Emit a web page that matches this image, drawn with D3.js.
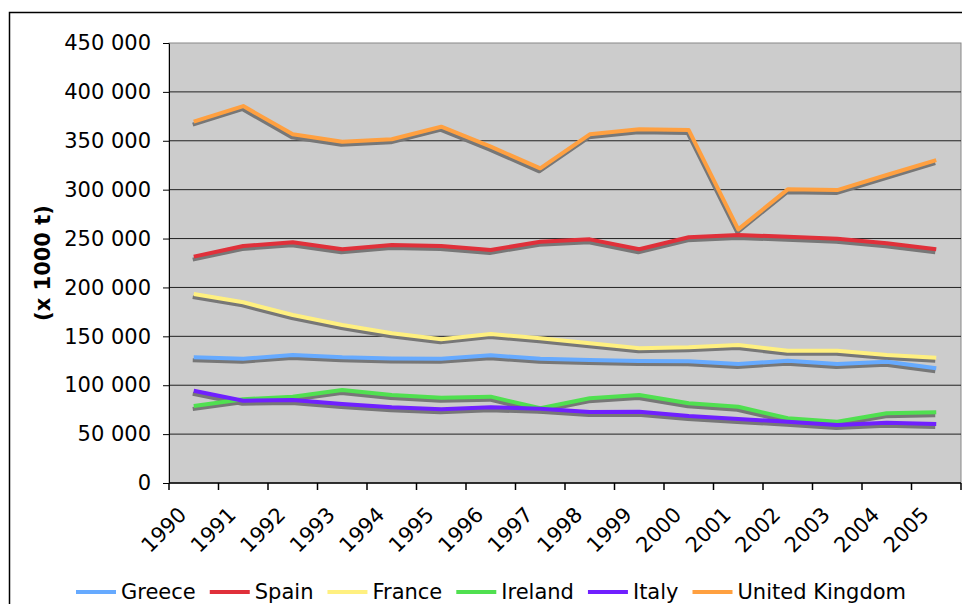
<!DOCTYPE html>
<html>
<head>
<meta charset="utf-8">
<script src="https://cdn.jsdelivr.net/npm/d3@7"></script>
<style>
  body { margin: 0; background: #fff; }
  svg text { font-family: "DejaVu Sans", Verdana, sans-serif; fill: #000; }
</style>
</head>
<body>
<div id="viz"></div>
<script>
const years = ['1990', '1991', '1992', '1993', '1994', '1995', '1996', '1997',
               '1998', '1999', '2000', '2001', '2002', '2003', '2004', '2005'];
const countries = ['Greece', 'Spain', 'France', 'Ireland', 'Italy', 'United Kingdom'];
const colors = ['#66aaff', '#e0303a', '#fff080', '#50e050', '#7020ff', '#ffa040'];

const greece = [128500, 127100, 130900, 128500, 127400, 127100, 130600, 127100,
                125800, 124700, 124400, 121700, 125100, 121700, 124000, 117300];
const spain = [231500, 242400, 246200, 239000, 243400, 242400, 238300, 246800,
               249200, 239000, 251300, 253600, 251900, 249900, 245100, 239000];
const france = [193300, 184800, 171800, 161600, 153100, 147000, 152400, 148000,
                142900, 137700, 138800, 141100, 135300, 135300, 130900, 128100];
const ireland = [78700, 85600, 88300, 95100, 90000, 87300, 88300, 76400,
                 86600, 90000, 81500, 78000, 66200, 62700, 71300, 72300];
const italy = [94400, 84200, 84900, 80800, 77400, 75400, 77400, 76000,
               72600, 72900, 68500, 65500, 62700, 59300, 61700, 60300];
const uk = [369500, 385500, 356600, 349000, 351500, 364400, 344000, 321800,
            356600, 361700, 361000, 259400, 300300, 299600, 315000, 330300];

const yTicks = [0, 50000, 100000, 150000, 200000, 250000, 300000, 350000, 400000, 450000];

const series = [greece, spain, france, ireland, italy, uk];

const width = 962;
const height = 604;
const plot = { left: 169, top: 43, right: 961, bottom: 483 };
const fontSize = '21px';

const svg = d3.select('#viz')
              .append('svg')
              .attr('width', width)
              .attr('height', height);

// outer chart frame
svg.append('rect')
   .attr('x', 9.5)
   .attr('y', 12.5)
   .attr('width', 1000)
   .attr('height', 700)
   .attr('fill', '#fff')
   .attr('stroke', '#000')
   .attr('stroke-width', 1.5);

const xScale = d3.scaleBand().domain(years).range([plot.left, plot.right]);
const yScale = d3.scaleLinear().domain([0, 450000]).range([plot.bottom, plot.top]);

// plot area
svg.append('rect')
   .attr('x', plot.left)
   .attr('y', plot.top)
   .attr('width', plot.right - plot.left)
   .attr('height', plot.bottom - plot.top)
   .attr('fill', '#cccccc')
   .attr('stroke', '#888')
   .attr('stroke-width', 1);

// grid lines
svg.append('g')
   .selectAll('line')
   .data(yTicks.slice(1, -1))
   .enter()
   .append('line')
   .attr('x1', plot.left)
   .attr('x2', plot.right)
   .attr('y1', d => yScale(d))
   .attr('y2', d => yScale(d))
   .attr('stroke', '#222')
   .attr('stroke-width', 1);

const fmt = v => d3.format(',')(v).replace(/,/g, ' ');

const yAxis = d3.axisLeft(yScale)
                .tickValues(yTicks)
                .tickSize(6)
                .tickSizeOuter(0)
                .tickPadding(12)
                .tickFormat(fmt);
const gy = svg.append('g')
              .attr('transform', 'translate(' + plot.left + ',0)')
              .call(yAxis);
gy.selectAll('text').style('font-size', fontSize).attr('fill', '#000');
gy.selectAll('line, path').attr('stroke', '#000');

// x axis: ticks on band boundaries
const tickPos = years.map(y => xScale(y)).concat([plot.right]);
svg.append('line')
   .attr('x1', plot.left)
   .attr('x2', plot.right)
   .attr('y1', plot.bottom)
   .attr('y2', plot.bottom)
   .attr('stroke', '#000')
   .attr('stroke-width', 1.5);
svg.append('g')
   .selectAll('line')
   .data(tickPos)
   .enter()
   .append('line')
   .attr('x1', d => d)
   .attr('x2', d => d)
   .attr('y1', plot.bottom)
   .attr('y2', plot.bottom + 7)
   .attr('stroke', '#000')
   .attr('stroke-width', 1.5);

svg.append('g')
   .selectAll('text')
   .data(years)
   .enter()
   .append('text')
   .attr('text-anchor', 'end')
   .style('font-size', fontSize)
   .attr('transform', d => 'translate(' + (xScale(d) + xScale.bandwidth() / 2 - 6) + ',' + (plot.bottom + 33) + ') rotate(-45)')
   .text(d => d);

// y axis title
svg.append('text')
   .attr('transform', 'translate(50,' + ((plot.top + plot.bottom) / 2) + ') rotate(-90)')
   .attr('text-anchor', 'middle')
   .style('font-size', fontSize)
   .style('font-weight', 'bold')
   .text('(x 1000 t)');

const line = d3.line()
               .x((d, i) => xScale(years[i]) + xScale.bandwidth() / 2)
               .y(d => yScale(d));

// shadows first, then coloured lines
series.forEach(s => {
    svg.append('path')
       .datum(s)
       .attr('d', line)
       .attr('fill', 'none')
       .attr('stroke', '#777')
       .attr('stroke-width', 4)
       .attr('stroke-linejoin', 'round')
       .attr('transform', 'translate(-1,3)');
});
series.forEach((s, k) => {
    svg.append('path')
       .datum(s)
       .attr('d', line)
       .attr('fill', 'none')
       .attr('stroke', colors[k])
       .attr('stroke-width', 4)
       .attr('stroke-linejoin', 'round');
});

// legend
const legend = svg.append('g').attr('transform', 'translate(76,592)');
let lx = 0;
countries.forEach((c, k) => {
    legend.append('line')
          .attr('x1', lx)
          .attr('x2', lx + 40)
          .attr('y1', 0)
          .attr('y2', 0)
          .attr('stroke', colors[k])
          .attr('stroke-width', 4);
    const t = legend.append('text')
                    .attr('x', lx + 45)
                    .attr('y', 7)
                    .style('font-size', fontSize)
                    .text(c);
    lx += 45 + t.node().getComputedTextLength() + 14;
});
</script>
</body>
</html>
